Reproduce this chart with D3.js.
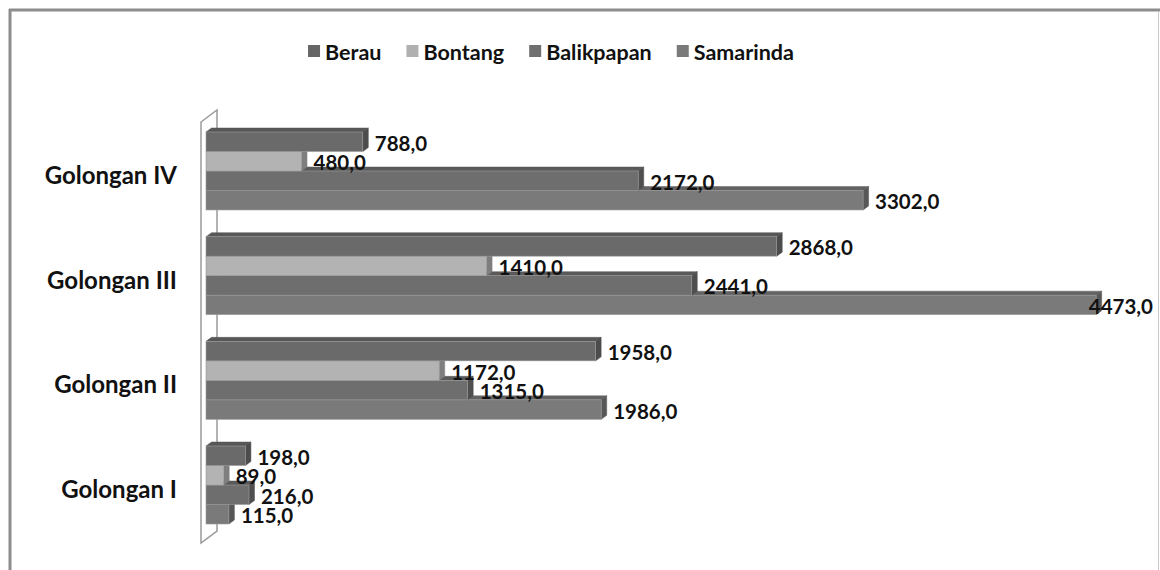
<!DOCTYPE html>
<html>
<head>
<meta charset="utf-8">
<script src="https://cdn.jsdelivr.net/npm/d3@7"></script>
<style>
  html, body { margin: 0; padding: 0; background: #ffffff; }
  svg { display: block; }
  text { font-family: Lato, "Open Sans", "DejaVu Sans", sans-serif; font-weight: 700; fill: #111; }
</style>
</head>
<body>
<svg id="chart" width="1160" height="570"></svg>
<script>
// ---- data ----
const categories = ["Golongan IV", "Golongan III", "Golongan II", "Golongan I"];
const seriesNames = ["Berau", "Bontang", "Balikpapan", "Samarinda"];
const berau      = [788, 2868, 1958, 198];
const bontang    = [480, 1410, 1172, 89];
const balikpapan = [2172, 2441, 1315, 216];
const samarinda  = [3302, 4473, 1986, 115];
const xMax = 4500;

const seriesValues = [berau, bontang, balikpapan, samarinda];
const frontColors = ["#6a6a6a", "#b3b3b3", "#6e6e6e", "#7a7a7a"];
const topColors   = ["#575757", "#8e8e8e", "#5a5a5a", "#636363"];
const sideColors  = ["#4c4c4c", "#7e7e7e", "#4f4f4f", "#575757"];
const legendColors = ["#666666", "#b0b0b0", "#707070", "#7a7a7a"];

const svg = d3.select("#chart");
const W = 1160, H = 570;

// chart area border
svg.append("line").attr("x1", 9).attr("x2", W).attr("y1", 10).attr("y2", 10)
  .attr("stroke", "#8c8c8c").attr("stroke-width", 3);
svg.append("line").attr("x1", 10).attr("x2", 10).attr("y1", 9).attr("y2", H)
  .attr("stroke", "#8c8c8c").attr("stroke-width", 3);
svg.append("line").attr("x1", W - 1.5).attr("x2", W - 1.5).attr("y1", 11).attr("y2", H)
  .attr("stroke", "#c8c8c8").attr("stroke-width", 1);

// scales
const x = d3.scaleLinear().domain([0, xMax]).range([206, 206 + xMax * 0.199]);
const y = d3.scaleBand().domain(categories).range([132, 524]).paddingInner(0.255).paddingOuter(0);
const ys = d3.scaleBand().domain(seriesNames).range([0, y.bandwidth()]).padding(0);

const dx = 5.5, dy = -4;

// left 3D wall
const wallTop = y.range()[0] - 10, wallBot = y.range()[1] + 19;
const wallFront = 201, wallBack = 217, wallDepthY = 12;
svg.append("polygon")
  .attr("points", [[wallFront, wallTop], [wallBack, wallTop - wallDepthY], [wallBack, wallBot - wallDepthY], [wallFront, wallBot]].map(p => p.join(",")).join(" "))
  .attr("fill", "#ffffff").attr("stroke", "#9a9a9a").attr("stroke-width", 1.5);

// bars: draw bottom series first so upper bars overlap lower bars' top faces
const bars = svg.append("g");
categories.forEach((cat, ci) => {
  for (let si = seriesNames.length - 1; si >= 0; si--) {
    const v = seriesValues[si][ci];
    const x0 = x(0), x1 = x(v);
    const y0 = y(cat) + ys(seriesNames[si]);
    const h = ys.bandwidth();
    const g = bars.append("g");
    g.append("polygon")
      .attr("points", [[x0, y0], [x0 + dx, y0 + dy], [x1 + dx, y0 + dy], [x1, y0]].map(p => p.join(",")).join(" "))
      .attr("fill", topColors[si]).attr("stroke", topColors[si]).attr("stroke-width", 0.5);
    g.append("polygon")
      .attr("points", [[x1, y0], [x1 + dx, y0 + dy], [x1 + dx, y0 + h + dy], [x1, y0 + h]].map(p => p.join(",")).join(" "))
      .attr("fill", sideColors[si]).attr("stroke", sideColors[si]).attr("stroke-width", 0.5);
    g.append("rect")
      .attr("x", x0).attr("y", y0).attr("width", x1 - x0).attr("height", h)
      .attr("fill", frontColors[si]).attr("stroke", "#9c9c9c").attr("stroke-width", 0.6);
  }
});

// data labels
const fmt = v => d3.format(".1f")(v).replace(".", ",");
const labels = svg.append("g");
categories.forEach((cat, ci) => {
  seriesNames.forEach((s, si) => {
    const v = seriesValues[si][ci];
    const t = labels.append("text")
      .attr("x", x(v) + 12)
      .attr("y", y(cat) + ys(s) + ys.bandwidth() / 2 + 1)
      .attr("dominant-baseline", "central")
      .attr("font-size", 20.5)
      .text(fmt(v));
    const w = t.node().getComputedTextLength();
    if (x(v) + 12 + w > W - 7) t.attr("x", W - 7 - w);
  });
});

// category labels
svg.append("g").selectAll("text").data(categories).join("text")
  .attr("x", 177)
  .attr("y", d => y(d) + y.bandwidth() / 2 + 13)
  .attr("text-anchor", "end")
  .attr("font-size", 24)
  .text(d => d);

// legend
const legend = svg.append("g");
const items = [];
seriesNames.forEach((s, i) => {
  const g = legend.append("g");
  g.append("rect").attr("x", 0).attr("y", -6).attr("width", 12).attr("height", 12).attr("fill", legendColors[i]);
  const t = g.append("text").attr("x", 17).attr("y", 1).attr("dominant-baseline", "central")
    .attr("font-size", 21.5).text(s);
  const w = 17 + t.node().getComputedTextLength();
  items.push({ g, w });
});
const gap = 25;
const total = d3.sum(items, d => d.w) + gap * (items.length - 1);
let lx = 551 - total / 2;
items.forEach(d => { d.g.attr("transform", `translate(${lx},51)`); lx += d.w + gap; });
</script>
</body>
</html>
